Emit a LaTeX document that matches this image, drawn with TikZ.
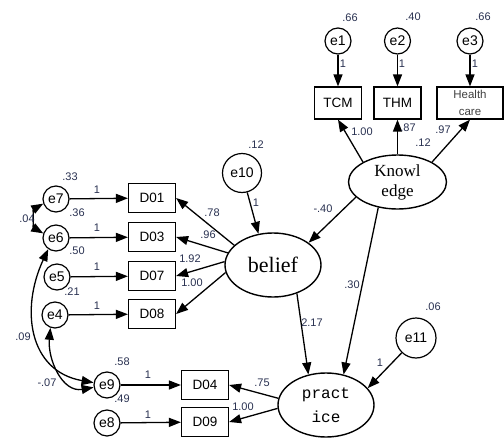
\documentclass[tikz,border=0pt]{standalone}
\usepackage{fontspec}
\setmainfont{Liberation Serif}
\setsansfont{Liberation Sans}
\setmonofont{Liberation Mono}
\usetikzlibrary{arrows.meta, shapes.geometric}
\definecolor{numblue}{RGB}{40,48,80}

\begin{document}
\begin{tikzpicture}[
    x=1pt, y=1pt,
    errc/.style={circle, draw, line width=1.2pt, minimum size=26pt, inner sep=0pt,
                 font=\fontsize{14}{15}\selectfont\sffamily},
    bigerr/.style={errc, minimum size=39pt},
    obs/.style={rectangle, draw, line width=1.2pt, minimum width=47pt, minimum height=29pt,
                inner sep=0pt, align=center, font=\fontsize{13.5}{15}\selectfont\sffamily},
    latent/.style={ellipse, draw, line width=1.4pt, minimum width=96pt, minimum height=64pt,
                   inner sep=0pt, align=center},
    arrow/.style={-{Triangle[length=12pt,width=9pt]}, line width=1.3pt},
    cov/.style={{Triangle[length=12pt,width=9pt]}-{Triangle[length=12pt,width=9pt]}, line width=1.3pt},
    lbl/.style={font=\fontsize{11}{12}\selectfont\sffamily, text=numblue, inner sep=1pt}
]
\useasboundingbox (0,0) rectangle (504,-439);

% Knowledge and its indicators
\node[errc] (e1) at (338,-41) {e1};
\node[errc] (e2) at (397.5,-41) {e2};
\node[errc] (e3) at (470,-41) {e3};
\node[obs, minimum height=32pt] (tcm) at (338,-103) {TCM};
\node[obs, minimum height=32pt] (thm) at (397.5,-103) {THM};
\node[obs, minimum height=32pt, minimum width=66pt, font=\fontsize{11.5}{17}\selectfont\sffamily, text=black!75] (hc) at (470,-103) {Health\\care};
\node[latent, minimum width=98pt, minimum height=54pt, font=\fontsize{17}{20}\selectfont] (know) at (397.5,-182) {Knowl\\edge};

% belief and practice
\node[latent, font=\fontsize{22}{24}\selectfont] (belief) at (273,-265) {belief};
\node[latent, font=\fontsize{16}{24}\selectfont\ttfamily] (pract) at (326,-405) {pract\\ice};
\node[bigerr] (e10) at (242,-173) {e10};
\node[bigerr, minimum size=40pt] (e11) at (416,-338) {e11};

% belief items
\node[obs] (d01) at (152,-198) {D01};
\node[obs] (d03) at (152,-237) {D03};
\node[obs] (d07) at (152,-276) {D07};
\node[obs] (d08) at (152,-314) {D08};
\node[errc] (e7) at (56,-199) {e7};
\node[errc] (e6) at (56,-238) {e6};
\node[errc] (e5) at (57,-277) {e5};
\node[errc] (e4) at (55,-315) {e4};

% practice items
\node[obs] (d04) at (205,-385) {D04};
\node[obs] (d09) at (205,-422) {D09};
\node[errc] (e9) at (107,-385) {e9};
\node[errc] (e8) at (107,-423) {e8};

\draw[arrow] (e1) -- (tcm);
\draw[arrow] (e2) -- (thm);
\draw[arrow] (e3) -- (hc);
\draw[arrow] (know.150) -- (tcm.south);
\draw[arrow] (know) -- (thm);
\draw[arrow] (know.30) -- (hc.south);
\draw[arrow] (know.200) -- (belief.32);
\draw[arrow] (know.233) -- (pract.60);
\draw[arrow] (belief.310) -- (pract.120);
\draw[arrow] (e10) -- (belief.115);
\draw[arrow] (e11) -- (pract.22);

\draw[arrow] (belief.153) -- (d01.east);
\draw[arrow] (belief.165) -- (d03.east);
\draw[arrow] (belief.176) -- (d07.east);
\draw[arrow] (belief.189) -- (d08.east);
\draw[arrow] (e7) -- (d01);
\draw[arrow] (e6) -- (d03);
\draw[arrow] (e5) -- (d07);
\draw[arrow] (e4) -- (d08);

\draw[arrow] (pract.172) -- (d04.east);
\draw[arrow] (pract.184) -- (d09.east);
\draw[arrow] (e9) -- (d04);
\draw[arrow] (e8) -- (d09);

% Covariances
\draw[cov] (e7.200) to[out=210, in=150] (e6.160);
\draw[cov] (e6.235) to[out=245, in=170, looseness=1.2] (e9.170);
\draw[cov] (e4.250) to[out=265, in=190, looseness=1.1] (e9.190);

% Variances
\node[lbl] (v1) at (350,-18) {.66};
\node[lbl] (v2) at (413,-17) {.40};
\node[lbl] (v3) at (483,-17) {.66};
\node[lbl] (vk) at (423,-143) {.12};
\node[lbl] (v10) at (256,-145) {.12};
\node[lbl] (v11) at (433,-307) {.06};
\node[lbl] (v7) at (70,-177) {.33};
\node[lbl] (v6) at (77,-213) {.36};
\node[lbl] (v5) at (77,-251) {.50};
\node[lbl] (v4) at (72,-292) {.21};
\node[lbl] (v9) at (122,-362) {.58};
\node[lbl] (v8) at (122,-399) {.49};

% Weights
\node[lbl] (w1) at (343,-64) {1};
\node[lbl] (w2) at (402,-64) {1};
\node[lbl] (w3) at (475,-64) {1};
\node[lbl] (wtcm) at (362,-132) {1.00};
\node[lbl] (wthm) at (408,-128) {.87};
\node[lbl] (whc) at (443,-130) {.97};
\node[lbl] (wkb) at (323,-209) {-.40};
\node[lbl] (wkp) at (352,-285) {.30};
\node[lbl] (wbp) at (312,-323) {2.17};
\node[lbl] (w11) at (380,-363) {1};
\node[lbl] (w10) at (256,-203) {1};
\node[lbl] (wd01) at (212,-213) {.78};
\node[lbl] (wd03) at (208,-235) {.96};
\node[lbl] (wd07) at (190,-259) {1.92};
\node[lbl] (wd08) at (192,-283) {1.00};
\node[lbl] (wd04) at (262,-383) {.75};
\node[lbl] (wd09) at (243,-407) {1.00};
\node[lbl] (w7) at (97,-190) {1};
\node[lbl] (w6) at (97,-228) {1};
\node[lbl] (w5) at (97,-267) {1};
\node[lbl] (w4) at (97,-306) {1};
\node[lbl] (w9) at (148,-375) {1};
\node[lbl] (w8) at (148,-415) {1};

% Covariance values
\node[lbl] (c76) at (27,-219) {.04};
\node[lbl] (c69) at (23,-337) {.09};
\node[lbl] (c49) at (47,-383) {-.07};

\end{tikzpicture}
\end{document}
